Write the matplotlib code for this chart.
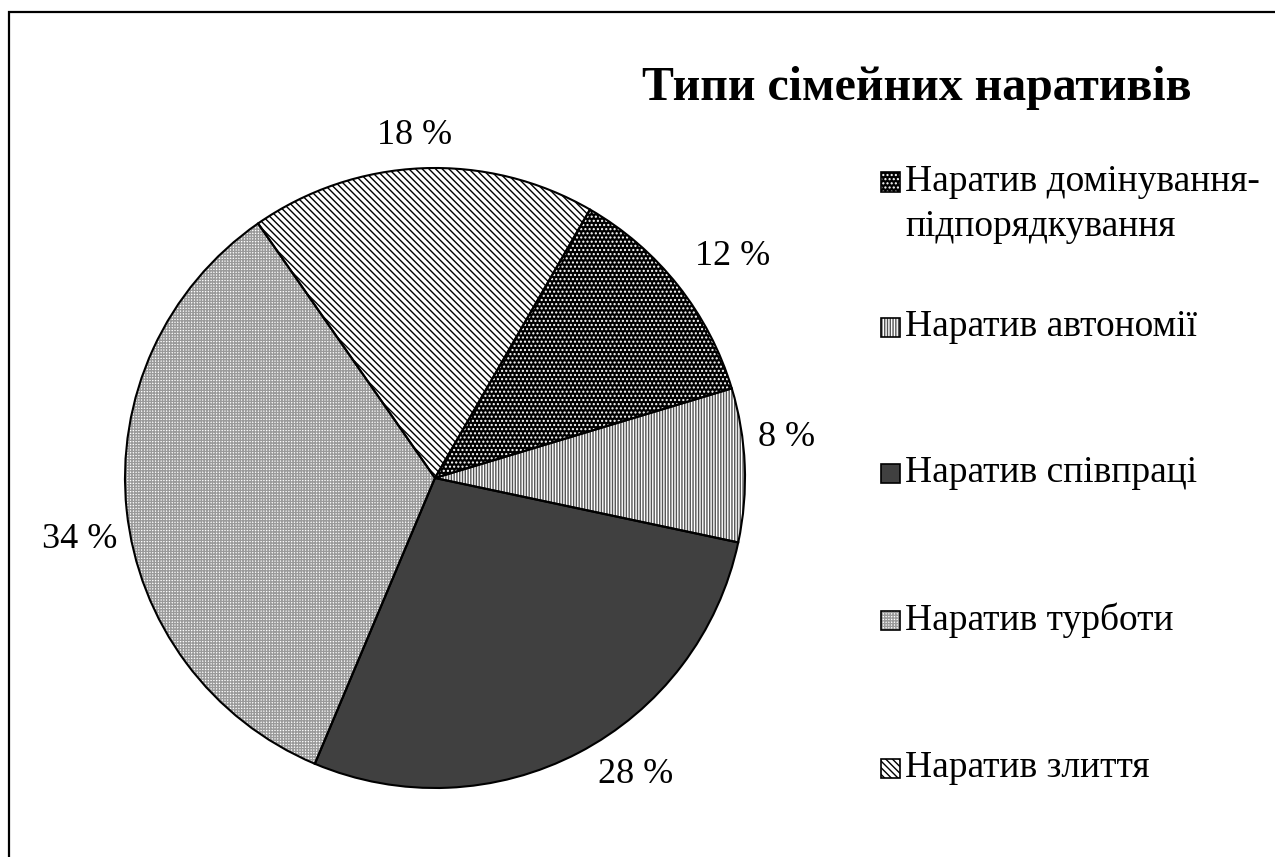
import matplotlib.pyplot as plt
from matplotlib.patches import Rectangle

# Data
categories = ["Наратив домінування-\nпідпорядкування", "Наратив автономії",
              "Наратив співпраці", "Наратив турботи", "Наратив злиття"]
shares = [12, 8, 28, 34, 18]
title = "Типи сімейних наративів"

# Styles: (face, hatch, hatch colour)
faces = ["black", "white", "#404040", "white", "white"]
hatches = ["....", "||||||", "", "++++++", "\\\\\\\\\\"]
hatch_colors = ["white", "#555555", "#404040", "#9a9a9a", "black"]

# label placement (pie radius units), as the original layout puts them
label_xy = [(0.961, 0.713), (1.135, 0.132), (0.648, -0.958),
            (-1.145, -0.197), (-0.065, 1.106)]

plt.rcParams["font.family"] = ["Liberation Serif", "DejaVu Serif"]
plt.rcParams["hatch.linewidth"] = 1.0

W, H = 1275, 857
fig = plt.figure(figsize=(W / 100, H / 100), dpi=100)

# outer frame (right/bottom edges fall outside the picture)
fig.patches.append(Rectangle((9 / W, -1), 2, 2 - 12 / H, transform=fig.transFigure,
                             fill=False, edgecolor="black", linewidth=1.6))

cx, cy, r = 435, 478, 310
ax = fig.add_axes([(cx - r) / W, 1 - (cy + r) / H, 2 * r / W, 2 * r / H])

# hatched fill layer (hatch colour comes from edgecolor)
wedges, _ = ax.pie(shares, startangle=60, counterclock=False, radius=1,
                   wedgeprops=dict(linewidth=0))
for w, fc, h, hc in zip(wedges, faces, hatches, hatch_colors):
    w.set_facecolor(fc)
    w.set_hatch(h)
    w.set_edgecolor(hc)

# outline layer + labels
labels = [f"{v} %" for v in shares]
_, texts = ax.pie(shares, startangle=60, counterclock=False, radius=1,
                  labels=labels, labeldistance=1.16,
                  wedgeprops=dict(fill=False, edgecolor="black", linewidth=1.5),
                  textprops=dict(fontsize=26))
for t, xy in zip(texts, label_xy):
    t.set_position(xy)
    t.set_ha("center")
    t.set_va("center")

ax.set_xlim(-1, 1)
ax.set_ylim(-1, 1)
ax.set_aspect("equal")
ax.axis("off")

# title
fig.text(917 / W, 1 - 88 / H, title, ha="center", va="center",
         fontsize=34.5, fontweight="bold")

# legend, drawn by hand
ys = [182, 327, 473, 620, 768]
sq = 19
x0 = 881
for name, y, fc, h, hc in zip(categories, ys, faces, hatches, hatch_colors):
    fig.patches.append(Rectangle((x0 / W, 1 - (y + sq / 2) / H), sq / W, sq / H,
                                 transform=fig.transFigure, facecolor=fc,
                                 hatch=h, edgecolor=hc, linewidth=0))
    fig.patches.append(Rectangle((x0 / W, 1 - (y + sq / 2) / H), sq / W, sq / H,
                                 transform=fig.transFigure, fill=False,
                                 edgecolor="black", linewidth=1.2))
    for i, line in enumerate(name.split("\n")):
        fig.text(905 / W, 1 - (y + 45 * i) / H, line, ha="left", va="center",
                 fontsize=27)

fig.savefig("out.png", dpi=100)
